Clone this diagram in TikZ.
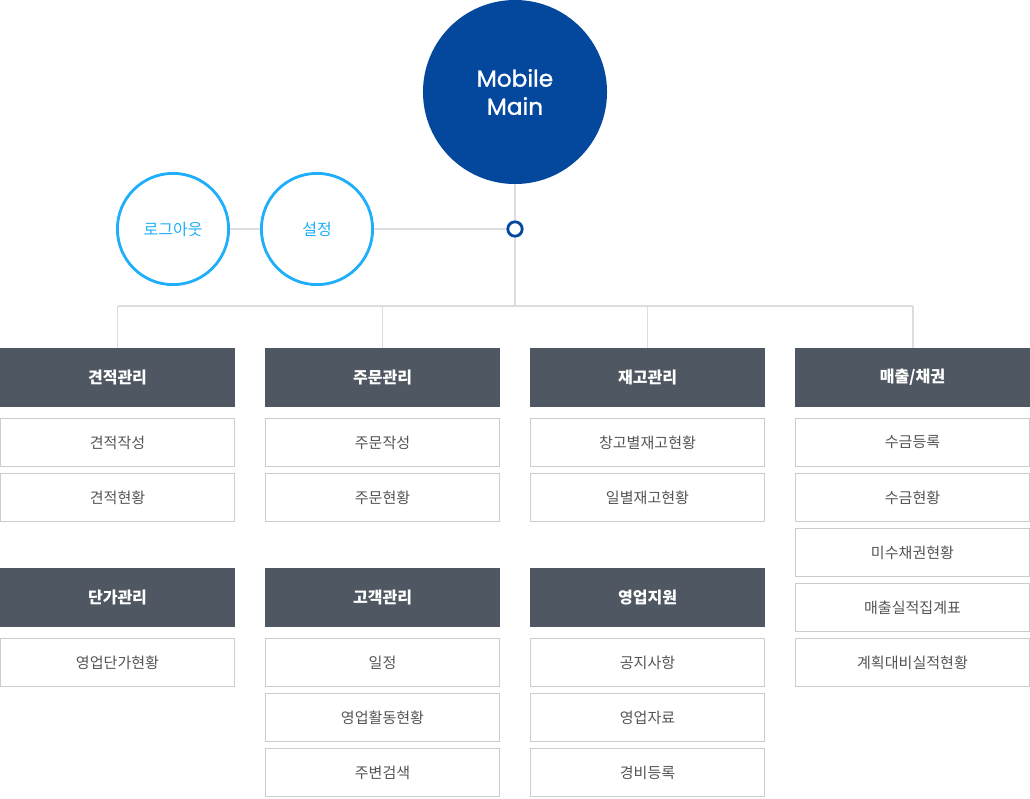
\documentclass[tikz,border=0pt]{standalone}
\usepackage{fontspec}
\usepackage{tikz}
\usetikzlibrary{positioning, calc}
\setmainfont{Noto Sans CJK KR}
\newfontfamily\latinfont[FakeBold=1.2]{Poppins}
\definecolor{mainblue}{RGB}{3,72,156}
\definecolor{skyblue}{RGB}{30,174,250}
\definecolor{headgray}{RGB}{79,88,98}
\definecolor{boxline}{RGB}{204,204,204}
\definecolor{linkgray}{RGB}{221,221,221}
\definecolor{itemtext}{RGB}{85,85,85}

\begin{document}
\begin{tikzpicture}[x=0.025cm, y=-0.025cm,
    mainnode/.style={circle, fill=mainblue, text=white, minimum size=4.6cm,
      inner sep=0pt, align=center, font=\latinfont\fontsize{16.5}{20}\selectfont},
    subcircle/.style={circle, draw=skyblue, line width=2pt, text=skyblue,
      minimum size=2.78cm, inner sep=0pt, font=\fontsize{11.4}{13}\selectfont},
    hub/.style={circle, draw=mainblue, line width=2pt, fill=white,
      minimum size=0.36cm, inner sep=0pt},
    menuhead/.style={fill=headgray, text=white, minimum width=5.875cm,
      minimum height=1.475cm, inner sep=0pt, font=\bfseries\fontsize{11.4}{13}\selectfont},
    menuitem/.style={draw=boxline, line width=0.7pt, fill=white, text=itemtext,
      minimum width=5.85cm, minimum height=1.2cm, inner sep=0pt,
      font=\fontsize{10.7}{12}\selectfont},
    link/.style={draw=linkgray, line width=1.4pt}]
  \useasboundingbox (0,0) rectangle (1030,798);
  % Top of the tree
  \node[mainnode] (main) at (515,92) {Mobile\\Main};
  \node[hub] (hub) at (515,229) {};
  \node[subcircle] (setup) at (317,229) {설정};
  \node[subcircle] (logout) at (173,229) {로그아웃};
  \coordinate (split) at (515,306);
  % Menu headers
  \node[menuhead] (quote) at (117.5,377.5) {견적관리};
  \node[menuhead] (order) at (382.5,377.5) {주문관리};
  \node[menuhead] (stock) at (647.5,377.5) {재고관리};
  \node[menuhead] (sales) at (912.5,377.5) {매출/채권};
  \node[menuhead] (price) at (117.5,597.5) {단가관리};
  \node[menuhead] (client) at (382.5,597.5) {고객관리};
  \node[menuhead] (support) at (647.5,597.5) {영업지원};
  % Connectors
  \draw[link] (main.south) -- (hub.north);
  \draw[link] (hub.south) -- (split);
  \draw[link] (setup.east) -- (hub.west);
  \draw[link] (logout.east) -- (setup.west);
  \draw[link] (quote.north |- split) -- (sales.north |- split);
  \foreach \col in {quote, order, stock, sales}
    \draw[link] (\col.north |- split) -- (\col.north);
  % Items under the first row
  \node[menuitem] (quote1) at (117.5,442.5) {견적작성};
  \node[menuitem] (quote2) at (117.5,497.5) {견적현황};
  \node[menuitem] (order1) at (382.5,442.5) {주문작성};
  \node[menuitem] (order2) at (382.5,497.5) {주문현황};
  \node[menuitem] (stock1) at (647.5,442.5) {창고별재고현황};
  \node[menuitem] (stock2) at (647.5,497.5) {일별재고현황};
  \node[menuitem] (sales1) at (912.5,442.5) {수금등록};
  \node[menuitem] (sales2) at (912.5,497.5) {수금현황};
  \node[menuitem] (sales3) at (912.5,552.5) {미수채권현황};
  \node[menuitem] (sales4) at (912.5,607.5) {매출실적집계표};
  \node[menuitem] (sales5) at (912.5,662.5) {계획대비실적현황};
  % Items under the second row
  \node[menuitem] (price1) at (117.5,662.5) {영업단가현황};
  \node[menuitem] (client1) at (382.5,662.5) {일정};
  \node[menuitem] (client2) at (382.5,717.5) {영업활동현황};
  \node[menuitem] (client3) at (382.5,772.5) {주변검색};
  \node[menuitem] (support1) at (647.5,662.5) {공지사항};
  \node[menuitem] (support2) at (647.5,717.5) {영업자료};
  \node[menuitem] (support3) at (647.5,772.5) {경비등록};
\end{tikzpicture}
\end{document}
